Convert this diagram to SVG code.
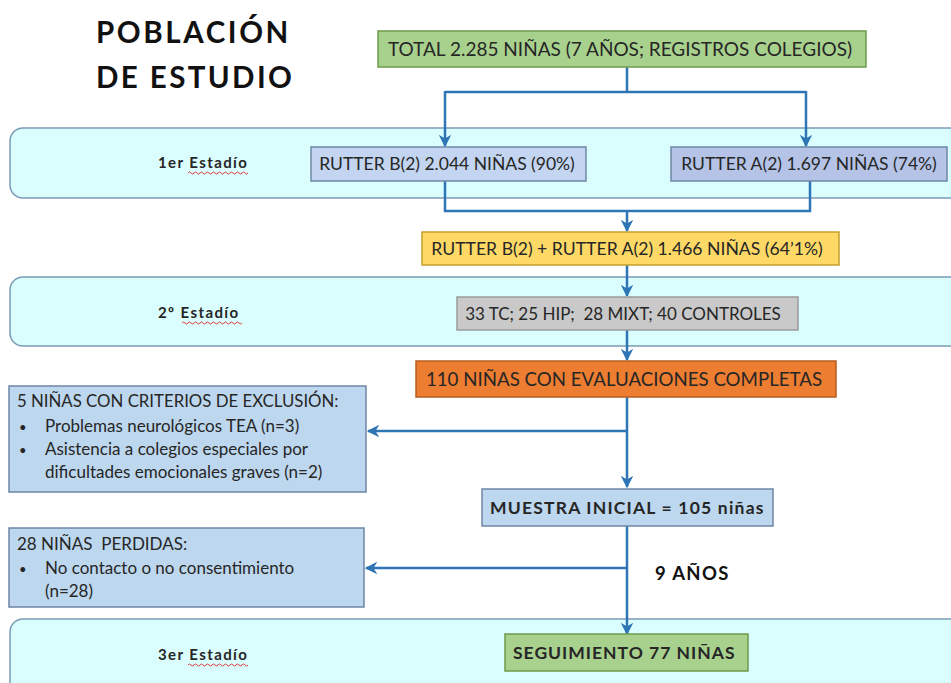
<svg xmlns="http://www.w3.org/2000/svg" width="951" height="683" viewBox="0 0 951 683">
<style>
text{font-family:Lato,"Open Sans","Liberation Sans",sans-serif;fill:#262626}
.t{font-size:17px}
.b{font-weight:bold}
.st{font-weight:bold;font-size:15px;letter-spacing:1.4px}
.band{fill:#dafdfe;stroke:#7c9bb5;stroke-width:1.5}
.green{fill:#a9d18e;stroke:#6c9a4c;stroke-width:1.5}
.lb{fill:#c3d5f0;stroke:#6f86a6;stroke-width:1.5}
.lb2{fill:#b4c3e6;stroke:#6f86a6;stroke-width:1.5}
.pb{fill:#bdd7ee;stroke:#6f86a6;stroke-width:1.5}
.yel{fill:#ffd966;stroke:#c5a02c;stroke-width:1.5}
.gry{fill:#c9c9c9;stroke:#9a9a9a;stroke-width:1.5}
.org{fill:#ed7d31;stroke:#b55d22;stroke-width:1.5}
.c{fill:none;stroke:#2e75b6;stroke-width:2.5}
.sq{fill:none;stroke:#e03c3c;stroke-width:1}
</style>
<defs>
<marker id="ah" viewBox="0 0 10 10" refX="9" refY="5" markerWidth="5" markerHeight="5" orient="auto" markerUnits="strokeWidth">
<path d="M0,0 L10,5 L0,10 L3,5 Z" fill="#2e75b6"/>
</marker>
</defs>
<rect width="951" height="683" fill="#ffffff"/>

<g id="title">
<text x="96" y="43" class="b" style="font-size:29.5px;letter-spacing:2.6px;fill:#111">POBLACIÓN</text>
<text x="96" y="88" class="b" style="font-size:29.5px;letter-spacing:2.4px;fill:#111">DE ESTUDIO</text>
</g>

<g id="stage1">
<rect x="10" y="128" width="960" height="70" rx="13" class="band"/>
<text x="158" y="168" class="st">1er Estadío</text>
<path class="sq" d="M188,173 q1.5,-2 3,0 t3,0 t3,0 t3,0 t3,0 t3,0 t3,0 t3,0 t3,0 t3,0 t3,0 t3,0 t3,0 t3,0 t3,0 t3,0 t3,0 t3,0 t3,0 t3,0"/>
</g>
<g id="stage2">
<rect x="10" y="277" width="960" height="69" rx="13" class="band"/>
<text x="158" y="318" class="st">2º Estadío</text>
<path class="sq" d="M182,323 q1.5,-2 3,0 t3,0 t3,0 t3,0 t3,0 t3,0 t3,0 t3,0 t3,0 t3,0 t3,0 t3,0 t3,0 t3,0 t3,0 t3,0 t3,0 t3,0 t3,0 t3,0"/>
</g>
<g id="stage3">
<rect x="10" y="619" width="960" height="90" rx="13" class="band"/>
<text x="158" y="660" class="st">3er Estadío</text>
<path class="sq" d="M188,665 q1.5,-2 3,0 t3,0 t3,0 t3,0 t3,0 t3,0 t3,0 t3,0 t3,0 t3,0 t3,0 t3,0 t3,0 t3,0 t3,0 t3,0 t3,0 t3,0 t3,0 t3,0"/>
</g>

<g id="connectors">
<path class="c" d="M627,67 V92 M445,92 H806"/>
<path class="c" d="M445,91 V146" marker-end="url(#ah)"/>
<path class="c" d="M806,91 V146" marker-end="url(#ah)"/>
<path class="c" d="M445,181 V211 H810 V181"/>
<path class="c" d="M627,211 V231" marker-end="url(#ah)"/>
<path class="c" d="M627,265 V296" marker-end="url(#ah)"/>
<path class="c" d="M627,330 V360" marker-end="url(#ah)"/>
<path class="c" d="M627,397 V487" marker-end="url(#ah)"/>
<path class="c" d="M627,431 H368" marker-end="url(#ah)"/>
<path class="c" d="M627,526 V634" marker-end="url(#ah)"/>
<path class="c" d="M627,568 H366" marker-end="url(#ah)"/>
</g>

<g id="total">
<rect x="378" y="31" width="488" height="36" class="green"/>
<text x="620" y="55.5" text-anchor="middle" class="t" style="font-size:19px">TOTAL 2.285 NIÑAS (7 AÑOS; REGISTROS COLEGIOS)</text>
</g>
<g id="rutterB">
<rect x="311" y="147" width="275" height="34" class="lb"/>
<text x="447" y="170" text-anchor="middle" class="t" style="font-size:17.5px">RUTTER B(2) 2.044 NIÑAS (90%)</text>
</g>
<g id="rutterA">
<rect x="671" y="147" width="276" height="34" class="lb2"/>
<text x="809" y="170" text-anchor="middle" class="t" style="font-size:17.5px">RUTTER A(2) 1.697 NIÑAS (74%)</text>
</g>
<g id="rutterAB">
<rect x="422" y="232" width="417" height="33" class="yel"/>
<text x="627" y="255" text-anchor="middle" class="t" style="font-size:17.6px">RUTTER B(2) + RUTTER A(2) 1.466 NIÑAS (64’1%)</text>
</g>
<g id="grupos">
<rect x="457" y="297" width="341" height="33" class="gry"/>
<text x="623" y="320" text-anchor="middle" class="t" xml:space="preserve">33 TC; 25 HIP;  28 MIXT; 40 CONTROLES</text>
</g>
<g id="evaluaciones">
<rect x="416" y="361" width="420" height="36" class="org"/>
<text x="624" y="385.5" text-anchor="middle" class="t" style="font-size:18.7px">110 NIÑAS CON EVALUACIONES COMPLETAS</text>
</g>
<g id="exclusion">
<rect x="9" y="386" width="357" height="106" class="pb"/>
<text x="17" y="407" class="t" style="font-size:16.8px">5 NIÑAS CON CRITERIOS DE EXCLUSIÓN:</text>
<text x="19" y="432" class="t" style="font-size:13px">•</text>
<text x="45" y="432" class="t">Problemas neurológicos TEA (n=3)</text>
<text x="19" y="455" class="t" style="font-size:13px">•</text>
<text x="45" y="455" class="t">Asistencia a colegios especiales por</text>
<text x="45" y="478" class="t">dificultades emocionales graves (n=2)</text>
</g>
<g id="muestra">
<rect x="482" y="489" width="291" height="37" class="pb"/>
<text x="490" y="514" class="b" style="font-size:17.5px;letter-spacing:1.2px">MUESTRA INICIAL = 105 niñas</text>
</g>
<g id="perdidas">
<rect x="9" y="528" width="355" height="79" class="pb"/>
<text x="17" y="550" class="t" xml:space="preserve">28 NIÑAS  PERDIDAS:</text>
<text x="19" y="574" class="t" style="font-size:13px">•</text>
<text x="45" y="574" class="t">No contacto o no consentimiento</text>
<text x="45" y="597" class="t">(n=28)</text>
</g>
<g id="label9">
<text x="655" y="580" class="b" style="font-size:18.5px;letter-spacing:1.3px;fill:#111">9 AÑOS</text>
</g>
<g id="seguimiento">
<rect x="505" y="634" width="243" height="37" class="green"/>
<text x="513" y="659" class="b" style="font-size:17.5px;letter-spacing:1px">SEGUIMIENTO 77 NIÑAS</text>
</g>
</svg>
